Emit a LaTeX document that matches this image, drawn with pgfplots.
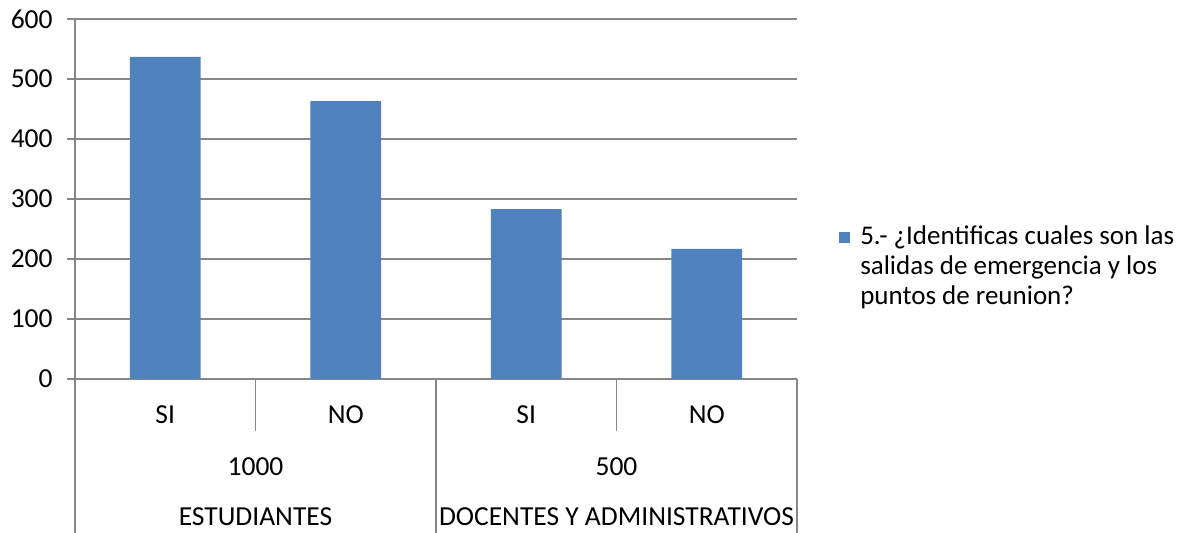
\documentclass[border=0pt]{standalone}
\usepackage{fontspec}
\setmainfont{Carlito}
\usepackage{pgfplots}
\pgfplotsset{compat=1.18}
\definecolor{barblue}{HTML}{4F81BD}
\definecolor{gridgray}{HTML}{878787}
\begin{document}
\fontsize{13.75}{15}\selectfont
\begin{tikzpicture}
\useasboundingbox (-37.5pt,-77pt) rectangle (553pt,189.5pt);
\begin{axis}[
  at={(0,0)}, anchor=south west,
  scale only axis, width=361pt, height=180pt,
  xmin=-0.5, xmax=3.5, ymin=0, ymax=600,
  ytick={0,100,...,600},
  xtick={0,1,2,3}, xticklabels={SI,NO,SI,NO},
  ymajorgrids, grid style={gridgray, line width=0.6pt},
  axis x line*=bottom, axis y line*=left,
  axis line style={gridgray, line width=0.6pt, -},
  tick align=outside, major tick length=4pt,
  ytick style={gridgray, line width=0.6pt},
  xtick style={draw=none},
  /pgf/number format/assume math mode=true,
  /pgf/number format/1000 sep={},
  ticklabel style={font=\fontsize{13.75}{15}\selectfont, text=black},
  xticklabel style={anchor=center, yshift=-14pt},
  yticklabel style={anchor=east, inner sep=0pt, xshift=-7pt},
  clip=false,
  legend style={at={(rel axis cs:1.058,0.311)}, anchor=west, draw=none, fill=none,
    inner sep=0pt, column sep=5pt,
    font=\fontsize{13.5}{15}\selectfont,
    cells={align=left, anchor=west}, nodes={inner sep=0pt}},
  legend image code/.code={\fill[barblue] (0pt,12.25pt) rectangle (5.5pt,17.75pt);},
]
\addplot[ybar, bar width=0.393, fill=barblue, draw=none]
  coordinates {(0,537) (1,463) (2,283) (3,217)};
\addlegendentry{5.- ¿Identificas cuales son las\\salidas de emergencia y los\\puntos de reunion?}
\draw[gridgray, line width=0.6pt] (axis cs:-0.5,0) -- ([yshift=-77pt]axis cs:-0.5,0);
\draw[gridgray, line width=0.6pt] (axis cs:0.5,0) -- ([yshift=-26pt]axis cs:0.5,0);
\draw[gridgray, line width=0.6pt] (axis cs:1.5,0) -- ([yshift=-77pt]axis cs:1.5,0);
\draw[gridgray, line width=0.6pt] (axis cs:2.5,0) -- ([yshift=-26pt]axis cs:2.5,0);
\draw[gridgray, line width=0.6pt] (axis cs:3.5,0) -- ([yshift=-77pt]axis cs:3.5,0);
\node at ([yshift=-44pt]axis cs:0.5,0) {1000};
\node at ([yshift=-44pt]axis cs:2.5,0) {500};
\node at ([yshift=-69pt]axis cs:0.5,0) {ESTUDIANTES};
\node at ([yshift=-69pt]axis cs:2.5,0) {DOCENTES Y ADMINISTRATIVOS};
\end{axis}
\end{tikzpicture}
\end{document}
